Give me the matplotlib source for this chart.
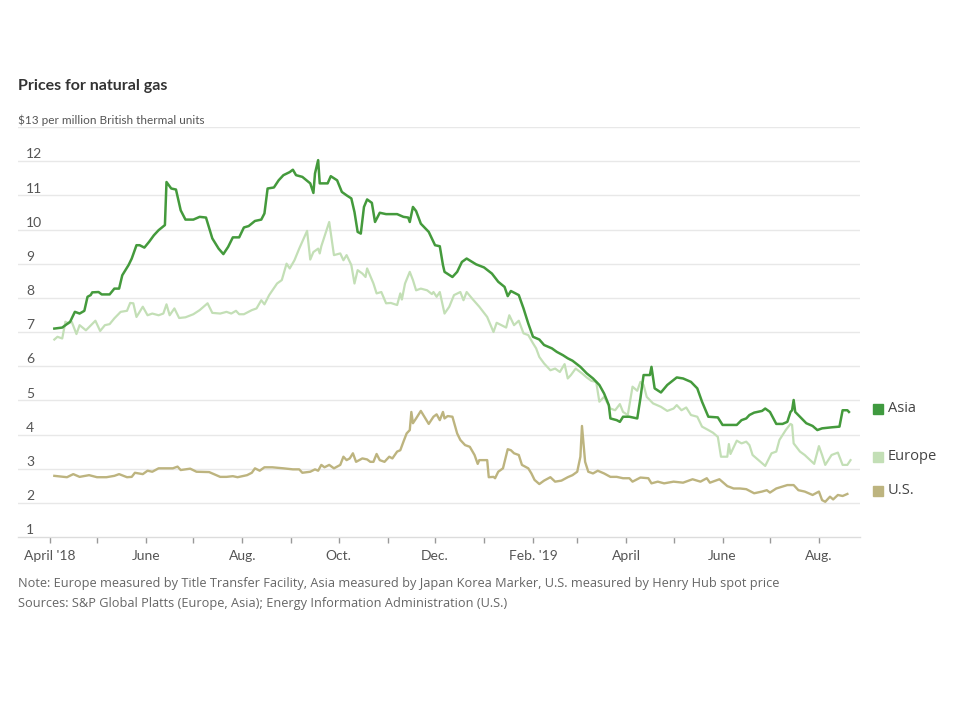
import matplotlib
matplotlib.use("Agg")
import matplotlib.pyplot as plt
import matplotlib.dates as mdates
import matplotlib.transforms as mtransforms
import pandas as pd

# data: days after 2018-04-01, price in $ per million Btu
start = pd.Timestamp("2018-04-01")

asia_days = [3, 8, 13, 16, 19, 22, 24, 26, 27, 31, 33, 38, 41, 44, 46, 50, 52, 55, 57, 60,
             63, 66, 69, 73, 74, 77, 80, 83, 86, 91, 95, 99, 103, 107, 110, 113, 116, 120, 123, 126,
             130, 134, 136, 138, 142, 145, 148, 152, 154, 156, 160, 165, 167, 168, 170, 171, 176, 178, 182, 185,
             188, 191, 193, 195, 197, 199, 201, 204, 206, 209, 213, 220, 224, 227, 228, 230, 232, 235, 240, 244,
             247, 249, 250, 255, 258, 261, 264, 270, 275, 280, 284, 288, 290, 292, 297, 300, 303, 306, 310, 313,
             318, 321, 325, 328, 331, 336, 340, 344, 348, 351, 354, 355, 359, 361, 363, 367, 372, 374, 376, 380,
             381, 383, 387, 391, 397, 401, 406, 410, 413, 417, 423, 426, 435, 438, 441, 443, 446, 451, 453, 456,
             460, 464, 467, 469, 470, 471, 472, 475, 479, 483, 486, 489, 495, 500, 502, 505, 506]
asia = [7.10, 7.13, 7.30, 7.59, 7.54, 7.62, 8.03, 8.08, 8.16, 8.17, 8.10, 8.10, 8.27, 8.27, 8.66, 8.96, 9.15, 9.54, 9.54, 9.47,
        9.64, 9.83, 9.98, 10.13, 11.39, 11.20, 11.17, 10.56, 10.29, 10.29, 10.37, 10.35, 9.74, 9.44, 9.28, 9.49, 9.77, 9.77, 10.06, 10.10,
        10.25, 10.29, 10.47, 11.20, 11.23, 11.44, 11.59, 11.68, 11.75, 11.59, 11.54, 11.35, 11.07, 11.64, 12.03, 11.35, 11.35, 11.56, 11.44, 11.10,
        11.00, 10.91, 10.51, 9.93, 9.88, 10.66, 10.88, 10.78, 10.22, 10.49, 10.45, 10.45, 10.37, 10.35, 10.22, 10.66, 10.54, 10.17, 9.93, 9.54,
        9.51, 8.96, 8.76, 8.61, 8.76, 9.05, 9.15, 8.98, 8.89, 8.71, 8.47, 8.32, 8.05, 8.20, 8.08, 7.69, 7.25, 6.86, 6.78, 6.62,
        6.52, 6.42, 6.32, 6.23, 6.16, 5.98, 5.79, 5.64, 5.45, 5.20, 4.86, 4.47, 4.42, 4.37, 4.52, 4.52, 4.47, 5.06, 5.74, 5.74,
        5.98, 5.35, 5.23, 5.45, 5.67, 5.64, 5.54, 5.35, 4.96, 4.52, 4.50, 4.28, 4.28, 4.42, 4.47, 4.57, 4.64, 4.69, 4.76, 4.66,
        4.31, 4.31, 4.37, 4.66, 4.71, 5.01, 4.66, 4.52, 4.33, 4.25, 4.13, 4.18, 4.21, 4.23, 4.71, 4.71, 4.66]

europe_days = [3, 5, 8, 10, 12, 14, 17, 19, 23, 29, 32, 35, 38, 41, 45, 49, 51, 53, 55, 59,
               62, 65, 69, 72, 74, 76, 79, 82, 86, 91, 95, 100, 103, 108, 112, 115, 118, 120, 123, 128,
               131, 134, 136, 139, 144, 147, 150, 152, 155, 158, 163, 165, 167, 170, 171, 172, 177, 180, 184, 186,
               188, 191, 193, 195, 198, 200, 201, 205, 207, 210, 213, 216, 220, 222, 223, 225, 228, 230, 232, 235,
               239, 242, 243, 245, 247, 250, 253, 256, 260, 262, 264, 268, 272, 277, 281, 283, 286, 289, 291, 294,
               297, 300, 303, 306, 308, 310, 313, 317, 320, 323, 326, 328, 330, 333, 337, 340, 343, 346, 348, 351,
               355, 358, 361, 363, 366, 369, 372, 374, 376, 378, 382, 387, 391, 395, 397, 400, 403, 406, 410, 413,
               417, 420, 423, 425, 429, 430, 431, 435, 438, 441, 443, 445, 450, 453, 457, 460, 462, 466, 469, 470,
               471, 475, 478, 481, 484, 487, 489, 491, 495, 499, 502, 505, 507]
europe = [6.78, 6.86, 6.81, 7.30, 7.25, 7.30, 6.94, 7.20, 7.05, 7.33, 7.03, 7.20, 7.23, 7.40, 7.59, 7.62, 7.85, 7.84, 7.44, 7.74,
          7.49, 7.54, 7.49, 7.54, 7.81, 7.49, 7.69, 7.41, 7.43, 7.52, 7.64, 7.84, 7.56, 7.54, 7.59, 7.54, 7.62, 7.52, 7.52, 7.64,
          7.69, 7.93, 7.81, 8.08, 8.42, 8.52, 9.00, 8.86, 9.10, 9.44, 9.96, 9.12, 9.34, 9.44, 9.30, 9.51, 10.22, 9.25, 9.30, 9.10,
          9.25, 8.96, 8.42, 8.81, 8.71, 8.61, 8.86, 8.42, 8.13, 8.17, 7.84, 7.85, 7.79, 8.13, 7.95, 8.42, 8.76, 8.52, 8.22, 8.27,
          8.22, 8.11, 8.17, 8.03, 8.17, 7.54, 7.74, 8.08, 8.17, 7.93, 8.17, 7.95, 7.74, 7.44, 7.00, 7.27, 7.20, 7.13, 7.49, 7.20,
          7.33, 6.96, 6.91, 6.67, 6.52, 6.27, 6.08, 5.88, 5.93, 5.83, 6.06, 5.64, 5.74, 5.93, 5.79, 5.67, 5.57, 5.54, 4.96, 5.10,
          4.76, 4.71, 4.89, 4.66, 4.57, 5.40, 5.28, 5.54, 5.45, 5.10, 4.91, 4.81, 4.69, 4.76, 4.86, 4.71, 4.79, 4.57, 4.52, 4.23,
          4.13, 4.05, 3.93, 3.35, 3.35, 3.72, 3.43, 3.82, 3.74, 3.79, 3.69, 3.40, 3.20, 3.08, 3.45, 3.50, 3.84, 4.13, 4.31, 4.28,
          3.74, 3.50, 3.40, 3.27, 3.14, 3.66, 3.40, 3.11, 3.40, 3.47, 3.11, 3.11, 3.25]

us_days = [3, 11, 15, 19, 25, 30, 36, 41, 44, 49, 52, 54, 59, 62, 65, 69, 74, 78, 81, 83,
           89, 93, 101, 108, 112, 116, 119, 125, 128, 130, 133, 136, 141, 148, 154, 158, 160, 165, 168, 170,
           172, 174, 177, 180, 184, 186, 188, 190, 192, 194, 198, 201, 203, 205, 207, 209, 212, 215, 217, 220,
           222, 224, 226, 228, 229, 230, 232, 235, 237, 240, 243, 245, 247, 249, 250, 252, 255, 258, 260, 263,
           266, 269, 271, 272, 277, 278, 281, 282, 284, 287, 290, 292, 294, 297, 299, 303, 305, 307, 310, 313,
           317, 320, 324, 328, 331, 334, 336, 337, 339, 341, 344, 347, 351, 355, 359, 363, 367, 369, 374, 379,
           381, 385, 389, 395, 401, 407, 412, 416, 418, 424, 429, 433, 437, 441, 446, 451, 454, 456, 460, 467,
           471, 474, 478, 483, 487, 489, 491, 494, 496, 499, 502, 505]
us = [2.79, 2.75, 2.84, 2.76, 2.81, 2.75, 2.75, 2.79, 2.84, 2.75, 2.76, 2.88, 2.84, 2.94, 2.91, 3.01, 3.01, 3.01, 3.06, 2.96,
      3.00, 2.91, 2.90, 2.76, 2.76, 2.78, 2.75, 2.81, 2.88, 3.01, 2.94, 3.04, 3.04, 3.01, 2.98, 2.98, 2.88, 2.91, 2.98, 2.94,
      3.11, 3.04, 3.11, 3.01, 3.11, 3.35, 3.25, 3.30, 3.45, 3.20, 3.30, 3.27, 3.20, 3.20, 3.43, 3.25, 3.20, 3.35, 3.30, 3.50,
      3.54, 3.79, 4.03, 4.13, 4.66, 4.33, 4.47, 4.69, 4.54, 4.31, 4.52, 4.59, 4.42, 4.66, 4.47, 4.54, 4.52, 4.03, 3.84, 3.69,
      3.64, 3.40, 3.14, 3.25, 3.25, 2.75, 2.76, 2.72, 2.91, 3.01, 3.57, 3.54, 3.45, 3.40, 3.11, 3.01, 2.86, 2.67, 2.55, 2.65,
      2.75, 2.62, 2.65, 2.75, 2.81, 2.91, 3.35, 4.25, 3.20, 2.91, 2.86, 2.94, 2.86, 2.76, 2.76, 2.72, 2.72, 2.62, 2.74, 2.72,
      2.57, 2.62, 2.57, 2.62, 2.59, 2.69, 2.62, 2.72, 2.59, 2.69, 2.49, 2.42, 2.42, 2.40, 2.28, 2.33, 2.37, 2.30, 2.42, 2.52,
      2.52, 2.37, 2.33, 2.23, 2.33, 2.08, 2.03, 2.18, 2.10, 2.23, 2.20, 2.26]

series_names = ["Asia", "Europe", "U.S."]
series_colors = ["#449a3c", "#c3dfb6", "#bdb47f"]
y_ticks = [1, 2, 3, 4, 5, 6, 7, 8, 9, 10, 11, 12, 13]
x_major = ["2018-04-01", "2018-06-01", "2018-08-01", "2018-10-01", "2018-12-01", "2019-02-01",
           "2019-04-01", "2019-06-01", "2019-08-01"]
x_labels = ["April '18", "June", "Aug.", "Oct.", "Dec.", "Feb. '19", "April", "June", "Aug."]

narrow = ["Lato", "DejaVu Sans"]
sans = ["Open Sans", "DejaVu Sans"]

fig = plt.figure(figsize=(9.6, 7.2), dpi=100)
ax = fig.add_axes([18 / 960, 1 - 537 / 720, 842 / 960, 410 / 720])

def to_dates(days):
    return start + pd.to_timedelta(days, unit="D")

ax.plot(to_dates(europe_days), europe, color=series_colors[1], lw=1.6, zorder=3)
ax.plot(to_dates(us_days), us, color=series_colors[2], lw=1.7, zorder=3)
ax.plot(to_dates(asia_days), asia, color=series_colors[0], lw=1.8, zorder=4)

ax.set_ylim(1, 13)
ax.set_xlim(pd.Timestamp("2018-03-12"), pd.Timestamp("2019-08-27"))

# gridlines
for v in y_ticks[1:]:
    ax.axhline(v, color="#e8e8e8", lw=1, zorder=1)
ax.set_yticks([])
for s in ["top", "right", "left"]:
    ax.spines[s].set_visible(False)
ax.spines["bottom"].set_color("#dcdcdc")
ax.spines["bottom"].set_linewidth(1)

# y labels sitting above gridlines
off = mtransforms.ScaledTranslation(0, 0.5 / 72, fig.dpi_scale_trans)
trans = mtransforms.blended_transform_factory(ax.transAxes, ax.transData) + off
for v in y_ticks[:-1]:
    ax.text(8 / 842, v, str(v), transform=trans, ha="left", va="bottom",
            fontsize=10, color="#555555", family=narrow)
ax.text(0, 13, "$13 per million British thermal units", transform=trans, ha="left", va="bottom",
        fontsize=8.5, color="#555555", family=narrow)

# x ticks
ax.set_xticks(pd.to_datetime(x_major))
ax.set_xticklabels(x_labels, family=narrow, fontsize=10, color="#555555")
ax.xaxis.set_minor_locator(mdates.MonthLocator())
ax.tick_params(axis="x", which="both", length=4, width=1, color="#999999", pad=5)

# end labels
ltrans = mtransforms.blended_transform_factory(ax.transAxes, ax.transData)
for name, col, vals in zip(series_names, series_colors, [asia, europe, us]):
    y = vals[-1] + 0.1
    ax.plot([860 / 842], [y], marker="s", ms=7.5, color=col if name != "Asia" else "#3f9a3f",
            transform=ltrans, clip_on=False)
    ax.text(870 / 842, y, name, transform=ltrans, ha="left", va="center",
            fontsize=10.5, color="#444444", family=sans)

fig.text(18 / 960, 1 - 86 / 720, "Prices for natural gas", ha="left", va="center",
         fontsize=11.5, fontweight="bold", color="#333333", family=narrow)
fig.text(18 / 960, 1 - 583 / 720,
         "Note: Europe measured by Title Transfer Facility, Asia measured by Japan Korea Marker, "
         "U.S. measured by Henry Hub spot price",
         ha="left", va="center", fontsize=9.2, color="#666666", family=sans)
fig.text(18 / 960, 1 - 603 / 720,
         "Sources: S&P Global Platts (Europe, Asia); Energy Information Administration (U.S.)",
         ha="left", va="center", fontsize=9.2, color="#666666", family=sans)

fig.savefig("out.png", dpi=100)
